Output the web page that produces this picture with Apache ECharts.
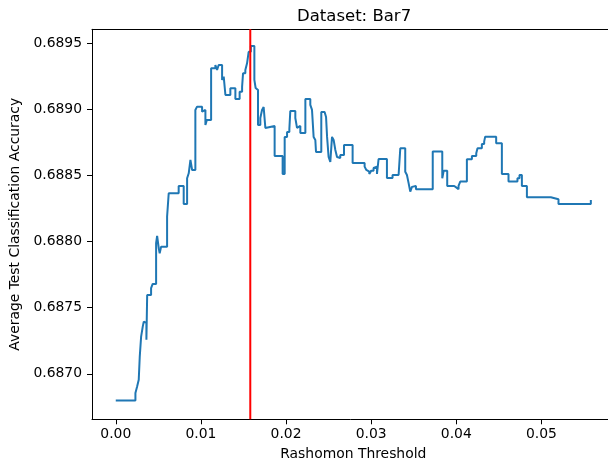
<!DOCTYPE html>
<html>
<head>
<meta charset="utf-8">
<script src="https://cdn.jsdelivr.net/npm/echarts@6/dist/echarts.min.js"></script>
<style>
html,body{margin:0;padding:0;background:#fff;}
#chart{width:608px;height:463px;}
</style>
</head>
<body>
<div id="chart"></div>
<script>
// Rashomon threshold (x) where each accuracy level starts
const thresholds = [
  0.00000, 0.00231, 0.00251, 0.00270, 0.00282, 0.00298, 0.00317, 0.00329, 0.00349, 0.00360,
  0.00369, 0.00415, 0.00434, 0.00474, 0.00486, 0.00505, 0.00516, 0.00533, 0.00603, 0.00622,
  0.00739, 0.00798, 0.00838, 0.00857, 0.00877, 0.00897, 0.00935, 0.00955, 0.01014, 0.01033,
  0.01053, 0.01070, 0.01120, 0.01170, 0.01190, 0.01209, 0.01249, 0.01268, 0.01288, 0.01346,
  0.01405, 0.01455, 0.01484, 0.01495, 0.01522, 0.01542, 0.01561, 0.01587, 0.01628, 0.01643,
  0.01655, 0.01671, 0.01698, 0.01718, 0.01737, 0.01757, 0.01765, 0.01866, 0.01960, 0.01984,
  0.02012, 0.02039, 0.02050, 0.02109, 0.02129, 0.02148, 0.02168, 0.02227, 0.02285, 0.02305,
  0.02324, 0.02344, 0.02352, 0.02414, 0.02453, 0.02470, 0.02482, 0.02500, 0.02520, 0.02540,
  0.02559, 0.02579, 0.02599, 0.02617, 0.02637, 0.02681, 0.02782, 0.02923, 0.02943, 0.02954,
  0.02962, 0.02978, 0.03001, 0.03028, 0.03048, 0.03068, 0.03087, 0.03185, 0.03251, 0.03275,
  0.03291, 0.03322, 0.03342, 0.03400, 0.03420, 0.03439, 0.03459, 0.03479, 0.03498, 0.03526,
  0.03723, 0.03835, 0.03852, 0.03893, 0.03975, 0.03999, 0.04026, 0.04046, 0.04124, 0.04183,
  0.04234, 0.04249, 0.04300, 0.04327, 0.04339, 0.04468, 0.04535, 0.04613, 0.04718, 0.04742,
  0.04770, 0.04829, 0.05110, 0.05200, 0.05580
];
// Average test classification accuracy at each level
const accuracy = [
  0.686798, 0.686854, 0.686904, 0.686955, 0.687131, 0.687282, 0.687357, 0.687395, 0.687385, 0.687257,
  0.687597, 0.687648, 0.687680, 0.687988, 0.688043, 0.687950, 0.687912, 0.687962, 0.688189, 0.688366,
  0.688421, 0.688285, 0.688479, 0.688517, 0.688618, 0.688542, 0.688996, 0.689021, 0.688983, 0.688996,
  0.688882, 0.688920, 0.689311, 0.689336, 0.689298, 0.689336, 0.689223, 0.689248, 0.689109, 0.689160,
  0.689079, 0.689134, 0.689172, 0.689273, 0.689298, 0.689349, 0.689436, 0.689480, 0.689223, 0.689162,
  0.689147, 0.688882, 0.688935, 0.688996, 0.689018, 0.688860, 0.688875, 0.688648, 0.688512, 0.688792,
  0.688829, 0.688852, 0.688988, 0.688935, 0.688860, 0.688875, 0.688822, 0.689079, 0.689034, 0.688996,
  0.688792, 0.688769, 0.688678, 0.688981, 0.688996, 0.688943, 0.688792, 0.688640, 0.688603, 0.688792,
  0.688769, 0.688693, 0.688640, 0.688633, 0.688656, 0.688731, 0.688595, 0.688567, 0.688542, 0.688557,
  0.688529, 0.688512, 0.688537, 0.688557, 0.688567, 0.688512, 0.688625, 0.688482, 0.688504, 0.688489,
  0.688504, 0.688512, 0.688706, 0.688529, 0.688504, 0.688444, 0.688378, 0.688414, 0.688421, 0.688396,
  0.688681, 0.688479, 0.688537, 0.688421, 0.688410, 0.688396, 0.688421, 0.688454, 0.688623, 0.688648,
  0.688668, 0.688706, 0.688739, 0.688756, 0.688794, 0.688744, 0.688512, 0.688454, 0.688479, 0.688504,
  0.688421, 0.688336, 0.688321, 0.688285, 0.688315
];
const selectedThreshold = 0.0158;
const xTicks = [0.00, 0.01, 0.02, 0.03, 0.04, 0.05];
const yTicks = [0.6870, 0.6875, 0.6880, 0.6885, 0.6890, 0.6895];
const xRange = [-0.00279, 0.05859];
const yRange = [0.686656, 0.689606];

const FONT = 'DejaVu Sans';
const seriesData = thresholds.map((t, i) => [t, accuracy[i]]);
const thresholdLine = [[selectedThreshold, yRange[0]], [selectedThreshold, yRange[1]]];

const chart = echarts.init(document.getElementById('chart'), null, {renderer: 'canvas'});
chart.setOption({
  animation: false,
  backgroundColor: '#ffffff',
  title: {
    text: 'Dataset: Bar7',
    left: 292,
    top: 3,
    textStyle: {fontFamily: FONT, fontSize: 16.5, fontWeight: 'normal', color: '#000'}
  },
  grid: {left: 92, top: 29.3, width: 522.6, height: 390, containLabel: false, outerBoundsMode: 'none'},
  xAxis: [{
    type: 'value',
    min: xRange[0],
    max: xRange[1],
    name: 'Rashomon Threshold',
    nameLocation: 'middle',
    nameGap: 28,
    nameTextStyle: {fontFamily: FONT, fontSize: 13.9, color: '#000'},
    axisLine: {show: true, onZero: false, lineStyle: {color: '#000', width: 1}},
    axisTick: {show: true, inside: false, length: 5, lineStyle: {color: '#000', width: 1}, customValues: xTicks},
    axisLabel: {fontFamily: FONT, fontSize: 13.9, color: '#000', margin: 8, customValues: xTicks,
      formatter: v => v.toFixed(2)},
    splitLine: {show: false}
  }, {
    type: 'value',
    position: 'top',
    min: xRange[0],
    max: xRange[1],
    axisLine: {show: true, onZero: false, lineStyle: {color: '#000', width: 1}},
    axisTick: {show: false},
    axisLabel: {show: false},
    splitLine: {show: false}
  }],
  yAxis: {
    type: 'value',
    min: yRange[0],
    max: yRange[1],
    name: 'Average Test Classification Accuracy',
    nameLocation: 'middle',
    nameGap: 70,
    nameTextStyle: {fontFamily: FONT, fontSize: 13.9, color: '#000'},
    axisLine: {show: true, onZero: false, lineStyle: {color: '#000', width: 1}},
    axisTick: {show: true, inside: false, length: 5, lineStyle: {color: '#000', width: 1}, customValues: yTicks},
    axisLabel: {fontFamily: FONT, fontSize: 13.9, color: '#000', margin: 10, customValues: yTicks,
      formatter: v => v.toFixed(4)},
    splitLine: {show: false}
  },
  series: [{
    type: 'line',
    xAxisIndex: 0,
    data: seriesData,
    step: 'end',
    showSymbol: false,
    symbol: 'none',
    lineStyle: {color: '#1f77b4', width: 2},
    z: 2
  }, {
    type: 'line',
    xAxisIndex: 0,
    data: thresholdLine,
    showSymbol: false,
    symbol: 'none',
    lineStyle: {color: '#ff0000', width: 2},
    z: 3
  }]
});
</script>
</body>
</html>
